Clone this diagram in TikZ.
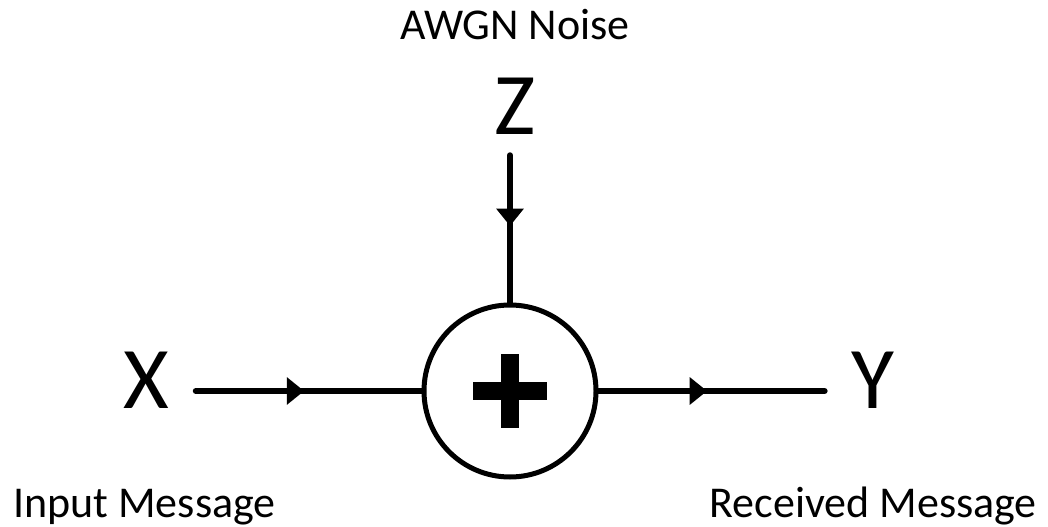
\documentclass[tikz,border=0pt]{standalone}
\usepackage{fontspec}
\setmainfont{Carlito}
\usetikzlibrary{arrows.meta, decorations.markings, positioning}

\begin{document}
\begin{tikzpicture}[
        x=0.75pt, y=-0.75pt,
        sym/.style={font=\fontsize{66}{70}\selectfont, anchor=base, inner xsep=20pt, inner ysep=15pt},
        caption/.style={font=\fontsize{33}{36}\selectfont, inner sep=0pt},
        adder/.style={circle, draw=black, line width=3.75pt, minimum size=129pt, inner sep=0pt},
        conn/.style={line width=4.5pt, line cap=round,
            decoration={markings, mark=at position 0.48 with {\arrow{Triangle[length=13pt, width=20pt]}}},
            postaction=decorate}
    ]
    \useasboundingbox (0,0) rectangle (1048,527);

    % Adder
    \node[adder] (sum) at (510,391) {};
    \fill ([xshift=-28pt, yshift=-7pt]sum.center) rectangle ([xshift=28pt, yshift=7pt]sum.center);
    \fill ([xshift=-7pt, yshift=-27.5pt]sum.center) rectangle ([xshift=7pt, yshift=27.5pt]sum.center);

    % Signals
    \node[sym] (x) at (146,408) {X};
    \node[sym] (y) at (873,408) {Y};
    \node[sym] (z) at (515,135) {Z};

    % Captions
    \node[caption, anchor=base] (noise) at (515,40) {AWGN Noise};
    \node[caption, anchor=base west] (input) at (13,517) {Input Message};
    \node[caption, anchor=base east] (received) at (1037,517) {Received Message};

    % Connectors
    \draw[conn] (sum.west -| x.east) -- (sum.west);
    \draw[conn] (sum.east) -- (sum.east -| y.west);
    \draw[conn] (sum.north |- z.south) -- (sum.north);

\end{tikzpicture}
\end{document}
